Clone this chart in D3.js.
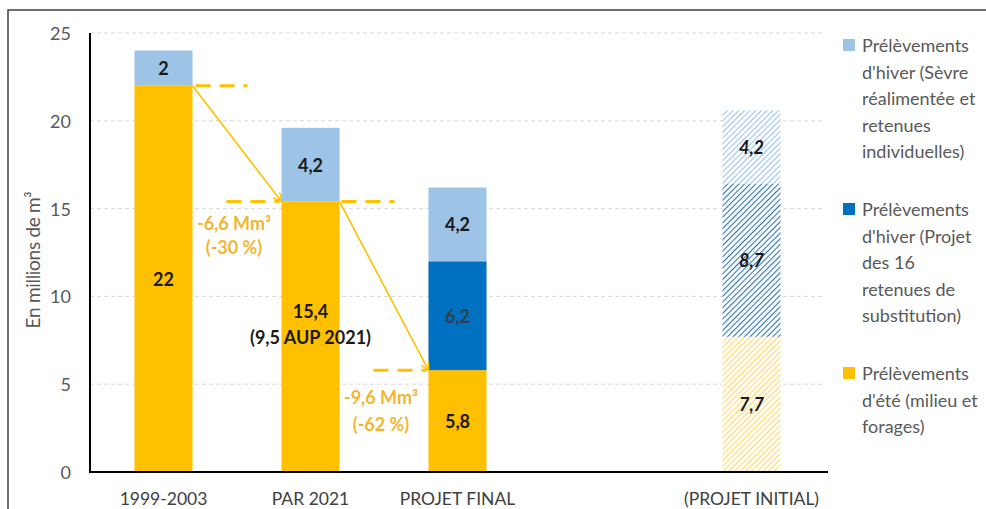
<!DOCTYPE html>
<html>
<head>
<meta charset="utf-8">
<script src="https://cdn.jsdelivr.net/npm/d3@7"></script>
<style>
  html, body { margin: 0; padding: 0; background: #fff; }
  svg { display: block; }
</style>
</head>
<body>
<script>
// Categories (one blank slot between PROJET FINAL and PROJET INITIAL)
const categories = ['1999-2003', 'PAR 2021', 'PROJET FINAL', 'gap', '(PROJET INITIAL)']
const hatched = ['(PROJET INITIAL)']

// Series values in millions of m3
const summer = [22, 15.4, 5.8, null, 7.7]
const substitution = [0, 0, 6.2, null, 8.7]
const winter = [2, 4.2, 4.2, null, 4.2]

const yTicks = [0, 5, 10, 15, 20, 25]

const seriesKeys = ['summer', 'substitution', 'winter']
const legendLabels = [
  ['Prélèvements', "d'hiver (Sèvre", 'réalimentée et', 'retenues', 'individuelles)'],
  ['Prélèvements', "d'hiver (Projet", 'des 16', 'retenues de', 'substitution)'],
  ['Prélèvements', "d'été (milieu et", 'forages)']
]

// Reductions shown with the orange arrows
const drops = [
  { from: '1999-2003', to: 'PAR 2021', lines: ['-6,6 Mm³', '(-30 %)'] },
  { from: 'PAR 2021', to: 'PROJET FINAL', lines: ['-9,6 Mm³', '(-62 %)'] }
]

const colors = {
  summer: '#FFC000',
  substitution: '#0070C0',
  winter: '#9DC3E6',
  annot: '#F2B630',
  grid: '#d9d9d9',
  text: '#595959'
}
const hatchColors = { summer: '#FFD966', substitution: '#2E75B6', winter: '#9DC3E6' }

const font = "Lato, 'Open Sans', sans-serif"
const width = 986, height = 509

const svg = d3.select('body').append('svg')
  .attr('width', width).attr('height', height)

// frame
svg.append('path')
  .attr('d', `M8,${height + 2} L8,10 L${width + 2},10`)
  .attr('fill', 'none').attr('stroke', '#404040').attr('stroke-width', 1.5)

const x = d3.scaleBand().domain(categories).range([90, 825]).paddingInner(0.605).paddingOuter(0.3025)
const y = d3.scaleLinear().domain([0, 25]).range([472, 33])

// hatch patterns
const defs = svg.append('defs')
seriesKeys.forEach(k => {
  const p = defs.append('pattern')
    .attr('id', 'hatch-' + k)
    .attr('patternUnits', 'userSpaceOnUse')
    .attr('width', 4).attr('height', 4)
    .attr('patternTransform', 'rotate(45)')
  p.append('rect').attr('width', 4).attr('height', 4).attr('fill', '#fff')
  p.append('line')
    .attr('x1', 0).attr('y1', 0).attr('x2', 0).attr('y2', 4)
    .attr('stroke', hatchColors[k]).attr('stroke-width', 2.2)
})

// grid
svg.append('g').selectAll('line')
  .data(yTicks.filter(t => t > 0))
  .join('line')
  .attr('x1', 90).attr('x2', 825)
  .attr('y1', d => y(d)).attr('y2', d => y(d))
  .attr('stroke', colors.grid).attr('stroke-dasharray', '4,3')

// y tick labels
svg.append('g').selectAll('text')
  .data(yTicks)
  .join('text')
  .attr('x', 71).attr('y', d => y(d))
  .attr('text-anchor', 'end').attr('dominant-baseline', 'central')
  .style('font-family', font).style('font-size', '18px').style('fill', colors.text)
  .text(d => d)

// y title
svg.append('text')
  .attr('transform', `translate(32, 260) rotate(-90)`)
  .attr('text-anchor', 'middle').attr('dominant-baseline', 'central')
  .style('font-family', font).style('font-size', '19px').style('fill', colors.text)
  .style('letter-spacing', '-0.3px')
  .text('En millions de m³')

// stacked bars
const rows = categories.map((c, i) => ({
  cat: c, summer: summer[i], substitution: substitution[i], winter: winter[i]
})).filter(d => d.summer !== null)

const stacked = d3.stack().keys(seriesKeys)(rows)

stacked.forEach(layer => {
  svg.append('g').selectAll('rect')
    .data(layer.filter(d => d[1] > d[0]))
    .join('rect')
    .attr('x', d => x(d.data.cat))
    .attr('width', x.bandwidth())
    .attr('y', d => y(d[1]))
    .attr('height', d => y(d[0]) - y(d[1]))
    .attr('fill', d => hatched.includes(d.data.cat) ? `url(#hatch-${layer.key})` : colors[layer.key])
})

// value labels
stacked.forEach(layer => {
  svg.append('g').selectAll('text')
    .data(layer.filter(d => d[1] > d[0]))
    .join('text')
    .attr('x', d => x(d.data.cat) + x.bandwidth() / 2)
    .attr('y', d => {
      const mid = y((d[0] + d[1]) / 2)
      return d.data.cat === 'PAR 2021' && layer.key === 'summer' ? mid - 26 : mid
    })
    .attr('text-anchor', 'middle').attr('dominant-baseline', 'central')
    .style('font-family', font).style('font-size', '18px')
    .style('font-weight', 700)
    .style('font-style', d => hatched.includes(d.data.cat) ? 'italic' : 'normal')
    .style('fill', d => layer.key === 'substitution' && !hatched.includes(d.data.cat) ? '#34404d' : '#1a1a1a')
    .text(d => String(+(d[1] - d[0]).toFixed(1)).replace('.', ','))
})

// extra note on PAR 2021
const par = rows.find(d => d.cat === 'PAR 2021')
svg.append('text')
  .attr('x', x('PAR 2021') + x.bandwidth() / 2)
  .attr('y', y(par.summer / 2))
  .attr('text-anchor', 'middle').attr('dominant-baseline', 'central')
  .style('font-family', font).style('font-size', '18px').style('font-weight', 700)
  .style('fill', '#1a1a1a')
  .text('(9,5 AUP 2021)')

// axes lines
svg.append('line')
  .attr('x1', 90).attr('x2', 90).attr('y1', y(25)).attr('y2', y(0))
  .attr('stroke', '#000').attr('stroke-width', 2)
svg.append('line')
  .attr('x1', 89).attr('x2', 828).attr('y1', y(0)).attr('y2', y(0))
  .attr('stroke', '#000').attr('stroke-width', 2)

// category labels
svg.append('g').selectAll('text')
  .data(categories.filter(c => c !== 'gap'))
  .join('text')
  .attr('x', d => x(d) + x.bandwidth() / 2)
  .attr('y', 498)
  .attr('text-anchor', 'middle').attr('dominant-baseline', 'central')
  .style('font-family', font).style('font-size', '17.5px').style('fill', '#404040')
  .text(d => d)

// arrows and dashed reference lines
defs.append('marker')
  .attr('id', 'arrow')
  .attr('viewBox', '0 0 10 10')
  .attr('refX', 9.5).attr('refY', 5)
  .attr('markerWidth', 9).attr('markerHeight', 9)
  .attr('markerUnits', 'userSpaceOnUse')
  .attr('orient', 'auto')
  .append('path')
  .attr('d', 'M0,0 L10,5 L0,10')
  .attr('fill', 'none').attr('stroke', colors.summer).attr('stroke-width', 1.6)

const annot = svg.append('g')
const summerOf = c => rows.find(d => d.cat === c).summer

drops.forEach((dr, i) => {
  const x0 = x(dr.from) + x.bandwidth()
  const x1 = x(dr.to)
  const y0 = y(summerOf(dr.from))
  const y1 = y(summerOf(dr.to))
  const dash = (a, b, yy) => annot.append('line')
    .attr('x1', a).attr('x2', b).attr('y1', yy).attr('y2', yy)
    .attr('stroke', colors.summer).attr('stroke-width', 3).attr('stroke-dasharray', '15,9')
  if (i === 0) dash(x0 + 3, x0 + 55, y0)
  dash(x1 - 55, x1 - 2, y1)
  if (i < drops.length - 1) dash(x1 + x.bandwidth() + 2, x1 + x.bandwidth() + 55, y1)

  annot.append('line')
    .attr('x1', x0).attr('y1', y0).attr('x2', x1).attr('y2', y1)
    .attr('stroke', colors.summer).attr('stroke-width', 1.6)
    .attr('marker-end', 'url(#arrow)')

  const t = annot.append('text')
    .attr('text-anchor', 'middle').attr('dominant-baseline', 'central')
    .style('font-family', font).style('font-size', '18px').style('font-weight', 700)
    .style('fill', colors.annot)
  dr.lines.forEach((ln, j) => {
    t.append('tspan')
      .attr('x', (x0 + x1) / 2 - 3)
      .attr('y', y1 + (i === 0 ? 21 : 27) + j * (i === 0 ? 24 : 27))
      .text(ln)
  })
})

// legend
const legend = svg.append('g')
const legendOrder = ['winter', 'substitution', 'summer']
const legendTop = [45, 209, 373]
legendOrder.forEach((k, i) => {
  legend.append('rect')
    .attr('x', 843).attr('y', legendTop[i] - 6)
    .attr('width', 12).attr('height', 12)
    .attr('fill', colors[k])
  legendLabels[i].forEach((ln, j) => {
    legend.append('text')
      .attr('x', 862).attr('y', legendTop[i] + j * 26.5)
      .attr('dominant-baseline', 'central')
      .style('font-family', font).style('font-size', '18px').style('fill', colors.text)
      .text(ln)
  })
})
</script>
</body>
</html>
